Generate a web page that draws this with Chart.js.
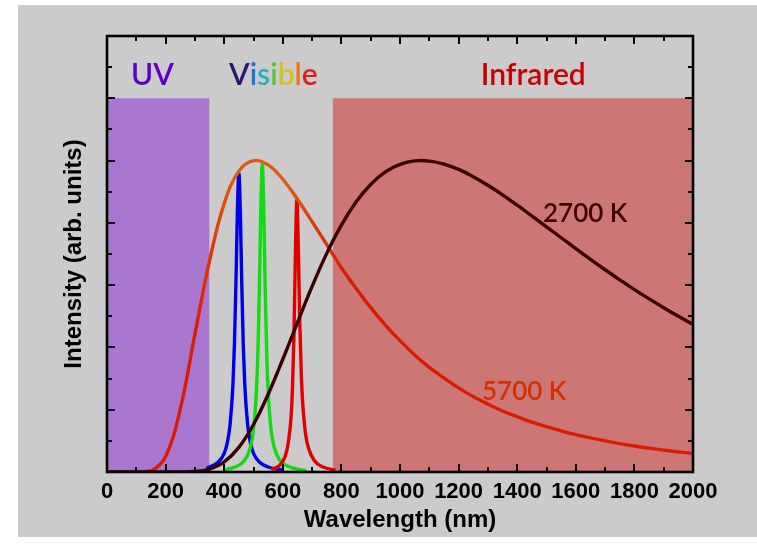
<!DOCTYPE html>
<html><head><meta charset="utf-8">
<script src="https://cdn.jsdelivr.net/npm/chart.js@4.4.1/dist/chart.umd.min.js"></script>
<style>html,body{margin:0;padding:0;background:#fff;}canvas{display:block;}</style>
</head><body>
<canvas id="c" width="757" height="548"></canvas>
<script>
// ---- data ----
const wavelengths = [0,50,100,150,200,250,300,350,400,450,500,550,600,650,700,750,800,850,900,950,1000,1050,1100,1150,1200,1250,1300,1350,1400,1450,1500,1550,1600,1650,1700,1750,1800,1850,1900,1950,2000];
const intensity5700K = [0,0,0,0.016,0.25,1.01,2.21,3.39,4.31,4.83,5.0,4.93,4.7,4.38,4.02,3.65,3.28,2.95,2.64,2.36,2.11,1.88,1.68,1.51,1.35,1.21,1.09,0.98,0.887,0.80,0.727,0.66,0.60,0.547,0.499,0.456,0.417,0.383,0.352,0.324,0.298];
const intensity2700K = [0,0,0,0,0,0,0.008,0.047,0.162,0.395,0.762,1.248,1.81,2.40,2.98,3.51,3.963,4.333,4.616,4.817,4.938,4.995,4.992,4.944,4.858,4.742,4.603,4.449,4.283,4.111,3.937,3.761,3.586,3.414,3.247,3.086,2.929,2.781,2.637,2.50,2.37];

const blueWavelengths = [340,380,400,410,420,430,435,440,445,450,455,460,465,470,480,490,500,520,550,600];
const blueIntensity   = [0.06,0.16,0.3,0.46,0.76,1.42,2.06,3.02,4.18,4.8,4.18,3.02,2.06,1.42,0.76,0.46,0.3,0.16,0.08,0.03];

const greenWavelengths = [400,460,480,490,500,510,515,520,525,530,535,540,545,550,560,570,580,600,630,680];
const greenIntensity   = [0.03,0.14,0.27,0.41,0.68,1.31,1.93,2.92,4.22,4.95,4.22,2.92,1.93,1.31,0.68,0.41,0.27,0.14,0.07,0.02];

const redWavelengths = [560,588,608,618,628,633,638,643,648,653,658,663,668,678,688,708,738,780];
const redIntensity   = [0.04,0.1,0.25,0.45,0.87,1.34,2.18,3.5,4.37,3.6,2.4,1.6,1.1,0.6,0.38,0.18,0.08,0.03];

const xTicks = {min: 0, max: 2000, step: 200, minorStep: 100};
const yTicks = {min: 0, max: 7, step: 1, minorStep: 0.5};

const uvBand = [0, 350];
const irBand = [770, 2000];
const bandTop = 6;

const bandLabels = ['UV', 'Visible', 'Infrared'];
const bandLabelX = [155, 568, 1455];
const bandLabelY = 6.21;
const curveLabels = ['2700 K', '5700 K'];
const curveLabelX = [1488, 1280];
const curveLabelY = [4.01, 1.16];

const xTitle = 'Wavelength (nm)';
const yTitle = 'Intensity (arb. units)';

// ---- helpers ----
const pts = (xs, ys) => xs.map((x, i) => ({x: x, y: ys[i]}));

const bgPlugin = {
  id: 'bg',
  beforeDraw(chart) {
    const c = chart.ctx;
    c.save();
    c.fillStyle = '#ffffff';
    c.fillRect(0, 0, chart.width, chart.height);
    c.fillStyle = '#cbcbcb';
    c.fillRect(18, 5, chart.width - 18, 532);
    c.restore();
  }
};

const decorPlugin = {
  id: 'decor',
  afterDraw(chart) {
    const c = chart.ctx;
    const xs = chart.scales.x, ys = chart.scales.y;
    const a = chart.chartArea;
    c.save();
    // ticks (inward, all four sides)
    c.strokeStyle = '#000';
    c.lineWidth = 2;
    for (let v = xTicks.min + xTicks.minorStep; v < xTicks.max; v += xTicks.minorStep) {
      const p = Math.round(xs.getPixelForValue(v));
      const len = (v % xTicks.step === 0) ? 8 : 5;
      c.beginPath();
      c.moveTo(p, a.bottom); c.lineTo(p, a.bottom - len);
      c.moveTo(p, a.top); c.lineTo(p, a.top + len);
      c.stroke();
    }
    for (let v = yTicks.min + yTicks.minorStep; v < yTicks.max; v += yTicks.minorStep) {
      const p = Math.round(ys.getPixelForValue(v));
      const len = (Math.abs(v - Math.round(v)) < 1e-6) ? 8 : 5;
      c.beginPath();
      c.moveTo(a.left, p); c.lineTo(a.left + len, p);
      c.moveTo(a.right, p); c.lineTo(a.right - len, p);
      c.stroke();
    }
    // frame
    c.lineWidth = 2.6;
    c.strokeRect(a.left, a.top, a.right - a.left, a.bottom - a.top);

    // band labels
    c.font = '600 30px Lato';
    c.textBaseline = 'alphabetic';
    c.textAlign = 'center';
    const by = ys.getPixelForValue(bandLabelY);
    c.fillStyle = '#5a00c8';
    c.fillText(bandLabels[0], xs.getPixelForValue(bandLabelX[0]), by);
    c.fillStyle = '#c80000';
    c.fillText(bandLabels[2], xs.getPixelForValue(bandLabelX[2]), by);
    // rainbow "Visible"
    const visColors = ['#24186e', '#1f78c8', '#1fb4bc', '#5cc040', '#d2c21e', '#e8781e', '#e01e1e'];
    const word = bandLabels[1];
    const total = c.measureText(word).width;
    let x = xs.getPixelForValue(bandLabelX[1]) - total / 2;
    c.textAlign = 'left';
    for (let i = 0; i < word.length; i++) {
      c.fillStyle = visColors[i % visColors.length];
      c.fillText(word[i], x, by);
      x += c.measureText(word[i]).width;
    }
    // curve labels
    c.font = '600 26px Lato';
    c.fillStyle = '#3c0000';
    c.fillText(curveLabels[0], xs.getPixelForValue(curveLabelX[0]), ys.getPixelForValue(curveLabelY[0]));
    c.fillStyle = '#d23000';
    c.fillText(curveLabels[1], xs.getPixelForValue(curveLabelX[1]), ys.getPixelForValue(curveLabelY[1]));
    c.restore();
  }
};

function grad5700(ctx) {
  const chart = ctx.chart;
  if (!chart.chartArea) return '#dc2000';
  const xs = chart.scales.x;
  const g = chart.ctx.createLinearGradient(xs.getPixelForValue(300), 0, xs.getPixelForValue(820), 0);
  g.addColorStop(0, '#da1c00');
  g.addColorStop(0.25, '#e05a10');
  g.addColorStop(0.6, '#e05a10');
  g.addColorStop(1, '#da1c00');
  return g;
}

const line = (data, color, order, smooth) => Object.assign({
  data: data, borderColor: color, borderWidth: 3.4, pointRadius: 0,
  fill: false, order: order
}, smooth ? {tension: 0.4} : {cubicInterpolationMode: 'monotone'});

new Chart(document.getElementById('c'), {
  type: 'line',
  data: {
    datasets: [
      line(pts(wavelengths, intensity2700K), '#3a0000', 0, true),
      line(pts(wavelengths, intensity5700K), grad5700, 1, true),
      line(pts(redWavelengths, redIntensity), '#e00000', 2, false),
      line(pts(greenWavelengths, greenIntensity), '#10dc10', 3, false),
      line(pts(blueWavelengths, blueIntensity), '#0000e6', 4, false),
      {data: [{x: uvBand[0], y: bandTop}, {x: uvBand[1], y: bandTop}], fill: 'origin',
       backgroundColor: '#a977cf', borderWidth: 0, pointRadius: 0, order: 10},
      {data: [{x: irBand[0], y: bandTop}, {x: irBand[1], y: bandTop}], fill: 'origin',
       backgroundColor: '#cd7676', borderWidth: 0, pointRadius: 0, order: 11}
    ]
  },
  options: {
    responsive: false,
    animation: false,
    devicePixelRatio: 1,
    layout: {padding: {top: 36, right: 64, left: 0, bottom: 0}},
    plugins: {legend: {display: false}, tooltip: {enabled: false}},
    scales: {
      x: {
        type: 'linear', min: xTicks.min, max: xTicks.max,
        ticks: {stepSize: xTicks.step, color: '#000', padding: 7, maxRotation: 0, autoSkip: false,
                callback: (v) => String(v),
                font: {family: 'Liberation Sans', weight: 'bold', size: 22}},
        grid: {display: false, drawTicks: false},
        border: {display: false},
        title: {display: true, text: xTitle, color: '#000', padding: {top: 0, bottom: 13},
                font: {family: 'Liberation Sans', weight: 'bold', size: 24}},
        afterFit(s) { s.height = 76; }
      },
      y: {
        type: 'linear', min: yTicks.min, max: yTicks.max,
        ticks: {display: false, stepSize: yTicks.step},
        grid: {display: false, drawTicks: false},
        border: {display: false},
        title: {display: true, text: yTitle, color: '#000', padding: {top: 60, bottom: 0},
                font: {family: 'Liberation Sans', weight: 'bold', size: 24}},
        afterFit(s) { s.width = 107; }
      }
    }
  },
  plugins: [bgPlugin, decorPlugin]
});
</script>
</body></html>
